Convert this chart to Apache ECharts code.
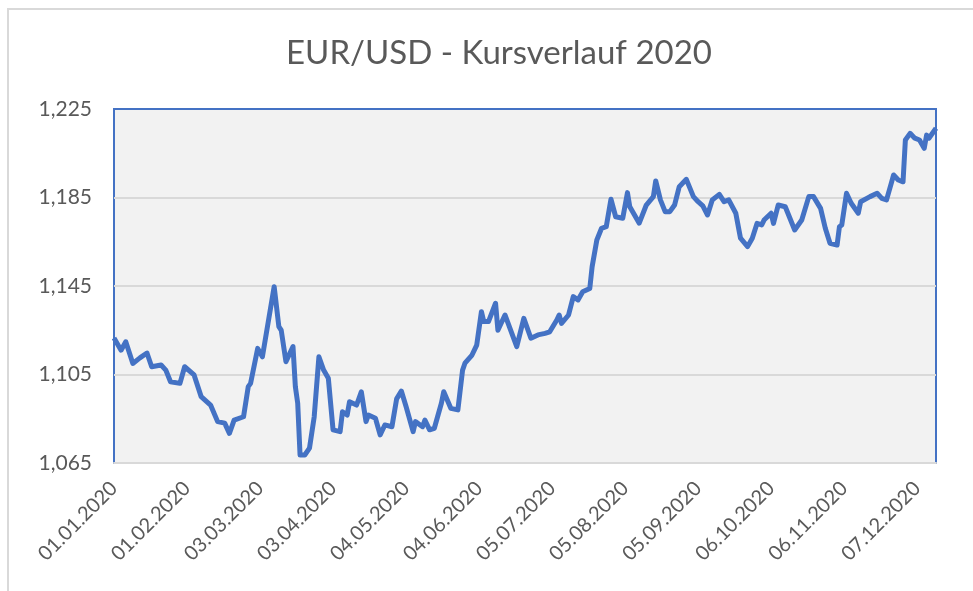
<!DOCTYPE html>
<html>
<head>
<meta charset="utf-8">
<script src="https://cdn.jsdelivr.net/npm/echarts@6/dist/echarts.min.js"></script>
<style>
    html, body { margin: 0; padding: 0; background: #fff; }
    .frame {
        position: absolute; left: 7px; top: 8px; width: 966px; height: 583px;
        border-top: 2px solid #d9d9d9; border-left: 2px solid #d9d9d9;
        box-sizing: border-box;
    }
    .line { position: absolute; left: 0; top: 0; width: 973px; height: 591px; }
</style>
</head>
<body>
<div class="frame"></div>
<div class="line"></div>
<script>
// Tage seit 01.01.2020
const days = [0, 3, 5, 8, 11, 14, 16, 20, 22, 24, 28, 30, 34, 37, 41, 44, 47, 49, 51, 55,
    57, 58, 61, 63, 68, 70, 71, 73, 76, 77, 78, 79, 81, 83, 85, 87, 89, 91, 93, 96,
    97, 99, 100, 103, 105, 107, 108, 111, 113, 115, 118, 120, 122, 124, 127, 128, 131, 132, 134, 136,
    139, 140, 143, 146, 148, 149, 152, 154, 156, 157, 159, 162, 163, 166, 171, 174, 177, 180, 183, 185,
    188, 189, 190, 193, 195, 197, 199, 202, 203, 205, 207, 209, 211, 213, 216, 218, 219, 223, 226, 229,
    230, 232, 234, 236, 238, 240, 243, 246, 248, 250, 252, 254, 257, 259, 261, 264, 266, 269, 271, 273,
    275, 276, 279, 280, 282, 285, 289, 292, 295, 297, 300, 302, 304, 307, 308, 309, 311, 313, 316, 317,
    321, 324, 326, 328, 330, 331, 333, 335, 336, 338, 340, 342, 344, 345, 346, 349]
// EUR/USD Kurs
const rates = [1.1215, 1.116, 1.1198, 1.110, 1.1125, 1.1147, 1.1085, 1.1093, 1.107, 1.1017, 1.101, 1.1085, 1.1048, 1.095, 1.0912, 1.0837, 1.083, 1.0784, 1.0844, 1.0859,
    1.0995, 1.101, 1.1168, 1.113, 1.1447, 1.1266, 1.125, 1.1108, 1.1176, 1.0995, 1.092, 1.0686, 1.0686, 1.0717, 1.0859, 1.113, 1.107, 1.1033, 1.080, 1.0792,
    1.0882, 1.0867, 1.0927, 1.0912, 1.0972, 1.0837, 1.0867, 1.0852, 1.0777, 1.0822, 1.0814, 1.094, 1.0975, 1.0905, 1.0792, 1.0837, 1.0814, 1.0844, 1.080, 1.0807,
    1.092, 1.0972, 1.0897, 1.089, 1.107, 1.1101, 1.1138, 1.1183, 1.1334, 1.1289, 1.1289, 1.1372, 1.125, 1.1319, 1.1176, 1.1304, 1.1214, 1.1229, 1.1236, 1.1243,
    1.1296, 1.1319, 1.1281, 1.1319, 1.1402, 1.1387, 1.1424, 1.1439, 1.1537, 1.1658, 1.1711, 1.1718, 1.1842, 1.1763, 1.1756, 1.1872, 1.1808, 1.1734, 1.1816, 1.1854,
    1.1925, 1.1839, 1.1786, 1.1786, 1.1816, 1.1899, 1.1932, 1.1854, 1.1831, 1.1812, 1.1771, 1.1839, 1.1864, 1.1831, 1.1839, 1.1779, 1.1666, 1.1628, 1.1666, 1.1733,
    1.1726, 1.1748, 1.1779, 1.1733, 1.1816, 1.1808, 1.1703, 1.1748, 1.1854, 1.1854, 1.1801, 1.1711, 1.1643, 1.1635, 1.1718, 1.1726, 1.1869, 1.1824, 1.1779, 1.1831,
    1.1854, 1.1869, 1.1846, 1.1839, 1.1914, 1.1952, 1.1929, 1.1921, 1.211, 1.214, 1.2118, 1.211, 1.2072, 1.2132, 1.2118, 1.2163]
const yTicks = [1.065, 1.105, 1.145, 1.185, 1.225]

const font = 'Lato, "Liberation Sans", sans-serif'

function dayLabel(d) {
    const dt = new Date(Date.UTC(2020, 0, 1 + d))
    const p = n => String(n).padStart(2, '0')
    return p(dt.getUTCDate()) + '.' + p(dt.getUTCMonth() + 1) + '.' + dt.getUTCFullYear()
}

;(function () {
    const myChart = echarts.init(document.querySelector('.line'))
    const option = {
        animation: false,
        title: {
            text: 'EUR/USD - Kursverlauf 2020',
            left: 494,
            textAlign: 'center',
            top: 32,
            textStyle: {
                color: '#595959',
                fontFamily: font,
                fontWeight: 'normal',
                fontSize: 33
            }
        },
        grid: {
            left: 114,
            right: 37,
            top: 109,
            bottom: 128,
            show: true,
            backgroundColor: '#f2f2f2',
            borderColor: '#4472c4',
            borderWidth: 2
        },
        xAxis: {
            type: 'value',
            min: 0,
            max: days[days.length - 1],
            interval: 31,
            splitLine: { show: false },
            axisTick: { show: false },
            axisLine: { lineStyle: { color: '#d9d9d9', width: 2 } },
            axisLabel: {
                rotate: 45,
                margin: 22,
                showMaxLabel: false,
                color: '#595959',
                fontFamily: font,
                fontSize: 20,
                formatter: v => dayLabel(v)
            }
        },
        yAxis: {
            type: 'value',
            min: yTicks[0],
            max: yTicks[yTicks.length - 1],
            interval: 0.04,
            axisLine: { show: false },
            axisTick: { show: false },
            splitLine: {
                showMinLine: false,
                showMaxLine: false,
                lineStyle: { color: '#d9d9d9', width: 2 }
            },
            axisLabel: {
                margin: 22,
                color: '#595959',
                fontFamily: font,
                fontSize: 21,
                formatter: v => v.toFixed(3).replace('.', ',')
            }
        },
        series: [
            {
                type: 'line',
                symbol: 'none',
                lineStyle: { color: '#4472c4', width: 5, join: 'round' },
                data: days.map((d, i) => [d, rates[i]])
            }
        ]
    }
    myChart.setOption(option)
})()
</script>
</body>
</html>
